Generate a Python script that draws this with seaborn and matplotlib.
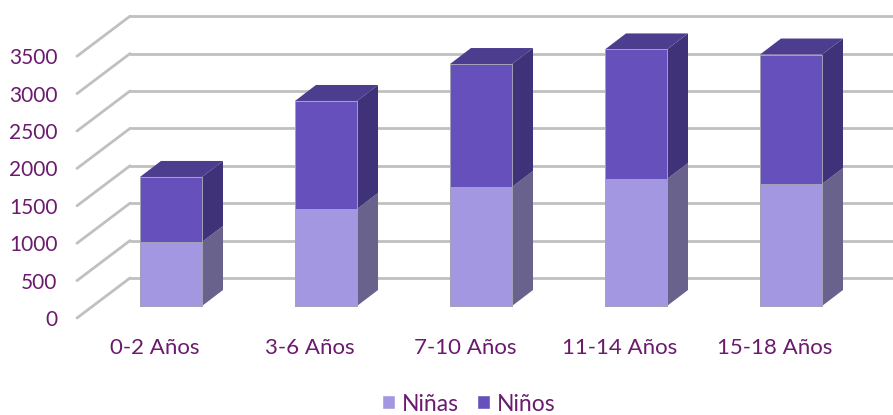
import matplotlib
matplotlib.use("Agg")
import matplotlib.pyplot as plt
from matplotlib.patches import Patch
import pandas as pd
import seaborn as sns

grupos = ['0-2 Años', '3-6 Años', '7-10 Años', '11-14 Años', '15-18 Años']
ninas = [856, 1297, 1591, 1698, 1631]
ninos = [869, 1444, 1644, 1732, 1731]
ticks = [0, 500, 1000, 1500, 2000, 2500, 3000, 3500]

TEXTO = '#6a1b6e'
CLARO = '#a497e2'
OSCURO = '#6650bc'
CLARO_LADO = '#68628c'
OSCURO_LADO = '#3f3278'
TECHO = '#4c3d8f'
GRIS = '#c0c0c0'
BORDE = '#a3a1b8'

W, H = 893, 415
PX_X = 155.0     # pixels per category
PX_Y = 37.4 / 500  # pixels per unit
# depth of the bars and of the walls, in data units
BAR_DX, BAR_DY = 21 / PX_X, 16 / PX_Y
ANCHO = 62 / PX_X
FRONT_DX, FRONT_DY = -94 / PX_X, -12 / PX_Y
BACK_DX, BACK_DY = -41 / PX_X, 28 / PX_Y

sns.set_theme(style='white')
plt.rcParams['font.family'] = ['Lato', 'DejaVu Sans']

df = pd.DataFrame({'grupo': grupos, 'ninas': ninas, 'ninos': ninos})
df['total'] = df['ninas'] + df['ninos']

fig = plt.figure(figsize=(W / 100, H / 100), dpi=100)
ax = fig.add_axes([77 / W, (H - 330) / H, (W - 77) / W, 330 / H])

sns.barplot(data=df, x='grupo', y='total', color=OSCURO, saturation=1, width=ANCHO,
            edgecolor=BORDE, linewidth=0.7, zorder=4, ax=ax)
sns.barplot(data=df, x='grupo', y='ninas', color=CLARO, saturation=1, width=ANCHO,
            edgecolor=BORDE, linewidth=0.7, zorder=5, ax=ax)

ax.set_xlim(-94 / PX_X, (W - 171) / PX_X)
ax.set_ylim(-24 / PX_Y, 306 / PX_Y)

# walls
xmax = ax.get_xlim()[1]
for t in ticks:
    ax.plot([FRONT_DX, BACK_DX], [t + FRONT_DY, t + BACK_DY], color=GRIS, lw=2,
            solid_capstyle='round', clip_on=False, zorder=1)
    ax.plot([BACK_DX, xmax], [t + BACK_DY, t + BACK_DY], color=GRIS, lw=2, zorder=1)

# depth of the bars
for i in range(len(grupos)):
    x1 = i + ANCHO / 2
    x0 = i - ANCHO / 2
    a = ninas[i]
    b = df['total'][i]
    ax.fill([x1, x1 + BAR_DX, x1 + BAR_DX, x1], [0, BAR_DY, a + BAR_DY, a],
            color=CLARO_LADO, lw=0, zorder=3)
    ax.fill([x1, x1 + BAR_DX, x1 + BAR_DX, x1], [a, a + BAR_DY, b + BAR_DY, b],
            color=OSCURO_LADO, lw=0, zorder=3)
    ax.fill([x0, x0 + BAR_DX, x1 + BAR_DX, x1], [b, b + BAR_DY, b + BAR_DY, b],
            color=TECHO, lw=0, zorder=3)

ax.set_xlabel('')
ax.set_ylabel('')
ax.set_yticks([t + FRONT_DY for t in ticks])
ax.set_yticklabels(ticks)
ax.set_xticks([i - 16 / PX_X for i in range(len(grupos))])
ax.set_xticklabels(grupos)
ax.tick_params(axis='y', length=0, pad=14, labelsize=15, labelcolor=TEXTO)
ax.tick_params(axis='x', length=0, pad=6, labelsize=16, labelcolor=TEXTO)
sns.despine(ax=ax, left=True, bottom=True)

handles = [Patch(facecolor=CLARO, label='Niñas'), Patch(facecolor=OSCURO, label='Niños')]
fig.legend(handles=handles, loc='center', bbox_to_anchor=(469 / W, 1 - 404 / H), ncol=2,
           frameon=False, fontsize=16.5, labelcolor=TEXTO, handlelength=0.57, handleheight=0.57,
           handletextpad=0.3, columnspacing=0.8, borderpad=0, borderaxespad=0)

fig.savefig('out.png', dpi=100)
